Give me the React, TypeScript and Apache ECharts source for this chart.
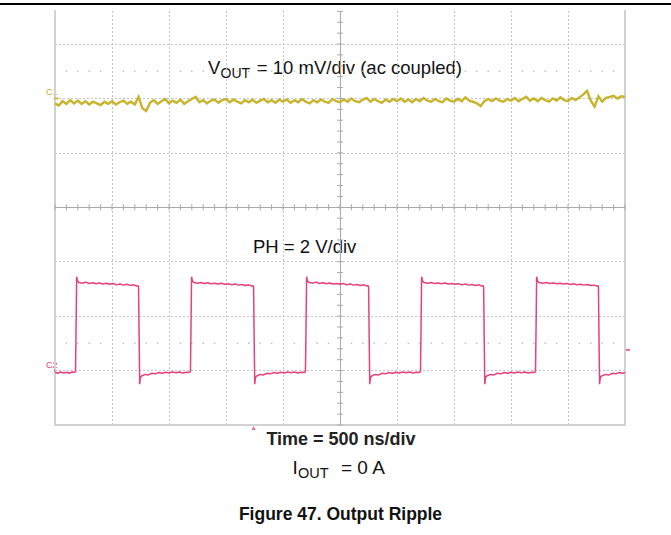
import React, { useEffect, useRef } from "react";
import * as echarts from "echarts";

// ---- scope settings ----
const timeMinNs = 0;
const timeMaxNs = 5000;
const timePerDivNs = 500;
const screenMinDiv = -4;
const screenMaxDiv = 3.607;

// ---- channel 1 : VOUT (10 mV/div, ac coupled), ground marker at +2 div ----
const voutGroundDiv = 2;
const voutMvPerDiv = 10;
const voutSampleNs = 5000 / 150;
const voutMv = [
  -0.9, -1.3, -0.5, -1.0, -0.3, -0.9, -0.4, -1.0, -0.5, -1.1,
  -0.6, -0.9, -1.2, -0.6, -1.0, -0.5, -1.1, -0.7, -0.4, -1.0,
  -0.6, -1.1, 0.3, -1.8, -2.3, -0.8, -0.3, -1.0, -0.5, -0.1,
  -0.9, -0.4, -0.8, -0.2, -1.0, -0.5, -0.1, 0.3, -0.7, -0.3,
  -0.9, -0.4, -0.2, -0.8, -0.3, -0.1, -0.7, -0.2, -0.6, -0.9,
  -0.3, -0.7, -0.2, -0.8, -0.4, -0.1, -0.7, -0.3, -0.8, -0.2,
  -0.6, -0.2, -0.8, -0.3, -0.7, -0.1, -0.6, -0.9, -0.3, -0.7,
  -0.2, -0.6, -0.8, -0.1, -0.5, -0.7, -0.2, -0.6, 0.0, -0.5,
  -0.7, -0.2, 0.1, -0.6, -0.1, -0.5, -0.8, -0.2, -0.6, -0.1,
  -0.5, 0.0, -0.6, -0.2, -0.7, -0.1, -0.5, 0.1, -0.4, -0.6,
  -0.1, -0.5, -0.7, 0.0, -0.4, -0.6, -0.1, -0.5, 0.2, -0.4,
  -0.6, -0.9, -1.4, -0.5, -0.1, -0.5, 0.0, -0.4, -0.6, -0.1,
  -0.4, 0.1, -0.5, -0.1, 0.3, -0.4, 0.0, -0.5, 0.1, -0.3,
  -0.6, 0.0, -0.4, 0.2, -0.3, -0.5, 0.1, -0.3, 0.2, 0.7,
  1.4, -0.4, -1.5, 0.4, -0.6, 0.1, 0.3, 0.5, 0.0, 0.4, 0.3,
];

// ---- channel 2 : PH (2 V/div), ground marker at -3 div ----
const phGroundDiv = -3;
const phVoltsPerDiv = 2;
const phTrace: [number, number][] = [
  [0, -0.06], [25, -0.1], [50, -0.05], [75, -0.09], [100, -0.06], [125, -0.1], [150, -0.05], [170, -0.07],
  [180, -0.03], [185, 1.6], [190, 3.45], [197, 3.3], [210, 3.24],
  [240, 3.21], [270, 3.25], [300, 3.2], [330, 3.23], [360, 3.19], [390, 3.22], [420, 3.18], [450, 3.21],
  [480, 3.17], [510, 3.2], [540, 3.15], [570, 3.18], [600, 3.14], [630, 3.17], [660, 3.13], [690, 3.15],
  [715, 3.11], [728, 3.12],
  [733, 3.08], [738, 1.2], [743, -0.5], [749, -0.25], [760, -0.2],
  [790, -0.14], [820, -0.16], [850, -0.1], [880, -0.12], [910, -0.07], [940, -0.1], [970, -0.06], [1000, -0.09],
  [1030, -0.05], [1060, -0.08], [1090, -0.05], [1120, -0.09], [1150, -0.06], [1178, -0.07],
  [1188, -0.03], [1193, 1.6], [1198, 3.45], [1205, 3.3], [1218, 3.24],
  [1250, 3.21], [1280, 3.24], [1310, 3.2], [1340, 3.23], [1370, 3.19], [1400, 3.21], [1430, 3.18], [1460, 3.21],
  [1490, 3.17], [1520, 3.19], [1550, 3.15], [1580, 3.18], [1610, 3.14], [1640, 3.16], [1670, 3.13], [1700, 3.15],
  [1725, 3.11], [1737, 3.12],
  [1742, 3.08], [1747, 1.2], [1752, -0.5], [1758, -0.25], [1769, -0.2],
  [1800, -0.14], [1830, -0.16], [1860, -0.1], [1890, -0.12], [1920, -0.07], [1950, -0.1], [1980, -0.06], [2010, -0.09],
  [2040, -0.05], [2070, -0.08], [2100, -0.05], [2130, -0.09], [2160, -0.06], [2187, -0.07],
  [2197, -0.03], [2202, 1.6], [2207, 3.45], [2214, 3.3], [2227, 3.24],
  [2260, 3.22], [2290, 3.25], [2320, 3.2], [2350, 3.23], [2380, 3.19], [2410, 3.22], [2440, 3.18], [2470, 3.2],
  [2500, 3.17], [2530, 3.2], [2560, 3.15], [2590, 3.18], [2620, 3.14], [2650, 3.16], [2680, 3.13], [2710, 3.15],
  [2734, 3.11], [2746, 3.12],
  [2751, 3.08], [2756, 1.2], [2761, -0.5], [2767, -0.25], [2778, -0.2],
  [2810, -0.14], [2840, -0.16], [2870, -0.1], [2900, -0.12], [2930, -0.07], [2960, -0.1], [2990, -0.06], [3020, -0.09],
  [3050, -0.05], [3080, -0.08], [3110, -0.05], [3140, -0.09], [3170, -0.06], [3196, -0.07],
  [3206, -0.03], [3211, 1.6], [3216, 3.45], [3223, 3.3], [3236, 3.24],
  [3270, 3.21], [3300, 3.24], [3330, 3.2], [3360, 3.22], [3390, 3.19], [3420, 3.22], [3450, 3.18], [3480, 3.2],
  [3510, 3.17], [3540, 3.19], [3570, 3.15], [3600, 3.18], [3630, 3.14], [3660, 3.16], [3690, 3.13], [3720, 3.15],
  [3743, 3.11], [3755, 3.12],
  [3760, 3.08], [3765, 1.2], [3770, -0.5], [3776, -0.25], [3787, -0.2],
  [3820, -0.14], [3850, -0.16], [3880, -0.1], [3910, -0.12], [3940, -0.07], [3970, -0.1], [4000, -0.06], [4030, -0.09],
  [4060, -0.05], [4090, -0.08], [4120, -0.05], [4150, -0.09], [4180, -0.06], [4205, -0.07],
  [4215, -0.03], [4220, 1.6], [4225, 3.45], [4232, 3.3], [4245, 3.24],
  [4280, 3.21], [4310, 3.24], [4340, 3.2], [4370, 3.22], [4400, 3.19], [4430, 3.21], [4460, 3.18], [4490, 3.2],
  [4520, 3.16], [4550, 3.19], [4580, 3.15], [4610, 3.17], [4640, 3.14], [4670, 3.16], [4700, 3.13], [4730, 3.14],
  [4752, 3.11], [4762, 3.12],
  [4767, 3.08], [4772, 1.2], [4777, -0.5], [4783, -0.25], [4794, -0.2],
  [4830, -0.14], [4860, -0.16], [4890, -0.1], [4920, -0.12], [4950, -0.07], [4980, -0.1], [5000, -0.07],
];

// ---- trigger ----
const triggerTimeNs = 1743;
const triggerLevelV = 0.76;

// ---- ground marker extents (ns, slightly left of screen) ----
const markerStartNs = -64;
const voutMarkerEndNs = 30;
const phMarkerEndNs = 0;

const FONT = "'Liberation Sans', Arial, Helvetica, sans-serif";
const YELLOW = "#c8b42c";
const PINK = "#e6417c";
const GRID = "#c4c4c4";
const AXIS = "#a9a9a9";
const BORDER = "#d2d2d2";

export default function App() {
  const ref = useRef<HTMLDivElement>(null);

  useEffect(() => {
    if (!ref.current) return;
    const chart = echarts.init(ref.current, undefined, { renderer: "svg" });

    const voutData = voutMv.map((mv, i) => [i * voutSampleNs, voutGroundDiv + mv / voutMvPerDiv]);
    const phData = phTrace.map(([t, v]) => [t, phGroundDiv + v / phVoltsPerDiv]);

    // centre-axis minor ticks (every 1/5 division)
    const ticks: number[][] = [];
    const minorNs = timePerDivNs / 5;
    for (let t = timeMinNs; t <= timeMaxNs + 0.1; t += minorNs) ticks.push([t, 0, 0]);
    for (let k = Math.ceil(screenMinDiv * 5); k <= Math.floor(screenMaxDiv * 5); k++) ticks.push([2500, k / 5, 1]);

    // dotted rows of minor graticule marks
    const dots: number[][] = [];
    for (let t = minorNs; t < timeMaxNs; t += minorNs) {
      if (Math.round(t) % timePerDivNs === 0) continue;
      dots.push([t, 2.5]);
      dots.push([t, -2.5]);
    }

    const option: any = {
      animation: false,
      backgroundColor: "#ffffff",
      grid: { left: 55, right: 46, top: 11, bottom: 110, containLabel: false },
      xAxis: {
        type: "value",
        min: timeMinNs,
        max: timeMaxNs,
        interval: timePerDivNs,
        axisLine: { show: true, onZero: false, lineStyle: { color: BORDER, width: 2 } },
        axisTick: { show: false },
        axisLabel: { show: false },
        splitLine: { show: true, lineStyle: { color: GRID, type: [2, 2], width: 1 } },
      },
      yAxis: [
        {
          type: "value",
          min: screenMinDiv,
          max: screenMaxDiv,
          interval: 1,
          position: "left",
          axisLine: { show: true, onZero: false, lineStyle: { color: BORDER, width: 2 } },
          axisTick: { show: false },
          axisLabel: { show: false },
          splitLine: { show: true, showMaxLine: false, lineStyle: { color: GRID, type: [2, 2], width: 1 } },
        },
        {
          type: "value",
          min: screenMinDiv,
          max: screenMaxDiv,
          interval: 1,
          position: "right",
          axisLine: { show: true, onZero: false, lineStyle: { color: BORDER, width: 2 } },
          axisTick: { show: false },
          axisLabel: { show: false },
          splitLine: { show: false },
        },
      ],
      series: [
        {
          type: "custom",
          silent: true,
          z: 1,
          data: ticks,
          renderItem: (_p: any, api: any) => {
            const c = api.coord([api.value(0), api.value(1)]);
            const h = 3;
            const vertical = api.value(2) === 0;
            return {
              type: "line",
              shape: vertical
                ? { x1: c[0], y1: c[1] - h, x2: c[0], y2: c[1] + h }
                : { x1: c[0] - h, y1: c[1], x2: c[0] + h, y2: c[1] },
              style: { stroke: AXIS, lineWidth: 1 },
            };
          },
          markLine: {
            silent: true,
            symbol: "none",
            label: { show: false },
            lineStyle: { color: AXIS, type: "solid", width: 1 },
            data: [{ xAxis: 2500 }, { yAxis: 0 }],
          },
        },
        {
          type: "scatter",
          silent: true,
          z: 1,
          symbol: "rect",
          symbolSize: 1.5,
          itemStyle: { color: "#b5b5b5" },
          data: dots,
        },
        {
          type: "line",
          z: 5,
          silent: true,
          symbol: "none",
          data: voutData,
          lineStyle: { color: YELLOW, width: 2.4, join: "miter" },
        },
        {
          type: "line",
          z: 5,
          silent: true,
          symbol: "none",
          clip: false,
          data: [[markerStartNs, voutGroundDiv], [voutMarkerEndNs, voutGroundDiv]],
          lineStyle: { color: YELLOW, width: 1.8 },
        },
        {
          type: "line",
          z: 6,
          silent: true,
          symbol: "none",
          data: phData,
          lineStyle: { color: PINK, width: 1.5 },
        },
        {
          type: "line",
          z: 6,
          silent: true,
          symbol: "none",
          clip: false,
          data: [[markerStartNs, phGroundDiv], [phMarkerEndNs, phGroundDiv]],
          lineStyle: { color: PINK, width: 1.6 },
        },
        {
          type: "scatter",
          silent: true,
          clip: false,
          z: 6,
          symbol: "rect",
          symbolSize: [4, 2],
          symbolOffset: [3, 0],
          itemStyle: { color: PINK },
          data: [[timeMaxNs, phGroundDiv + triggerLevelV / phVoltsPerDiv]],
        },
        {
          type: "scatter",
          silent: true,
          clip: false,
          z: 6,
          symbol: "triangle",
          symbolSize: [4, 4],
          symbolOffset: [0, 3],
          itemStyle: { color: PINK },
          data: [[triggerTimeNs, screenMinDiv]],
        },
      ],
      graphic: [
        { type: "rect", shape: { x: 0, y: 3, width: 671, height: 2 }, style: { fill: "#000" }, silent: true },
        { type: "text", x: 46, y: 92, style: { text: "C1", fill: YELLOW, font: `9px ${FONT}`, verticalAlign: "middle" } },
        { type: "text", x: 46, y: 365, style: { text: "C2", fill: PINK, font: `9px ${FONT}`, verticalAlign: "middle" } },
        { type: "text", x: 208, y: 67, style: { text: "V", fill: "#111", font: `18.5px ${FONT}`, verticalAlign: "middle" } },
        { type: "text", x: 220.5, y: 73, style: { text: "OUT", fill: "#111", font: `14px ${FONT}`, verticalAlign: "middle" } },
        { type: "text", x: 462, y: 67, style: { text: "= 10 mV/div (ac coupled)", fill: "#111", font: `18.5px ${FONT}`, align: "right", verticalAlign: "middle" } },
        { type: "text", x: 253, y: 246, style: { text: "PH = 2 V/div", fill: "#111", font: `18.5px ${FONT}`, verticalAlign: "middle" } },
        { type: "text", x: 341, y: 439, style: { text: "Time = 500 ns/div", fill: "#222", font: `bold 18px ${FONT}`, align: "center", verticalAlign: "middle" } },
        { type: "text", x: 292.5, y: 467, style: { text: "I", fill: "#111", font: `19px ${FONT}`, verticalAlign: "middle" } },
        { type: "text", x: 298, y: 473, style: { text: "OUT", fill: "#111", font: `14.5px ${FONT}`, verticalAlign: "middle" } },
        { type: "text", x: 341, y: 467, style: { text: "= 0 A", fill: "#111", font: `19px ${FONT}`, verticalAlign: "middle" } },
        { type: "text", x: 340.5, y: 514, style: { text: "Figure 47. Output Ripple", fill: "#111", font: `bold 17.5px ${FONT}`, align: "center", verticalAlign: "middle" } },
      ],
    };

    chart.setOption(option);
    return () => chart.dispose();
  }, []);

  return (
    <div
      ref={ref}
      style={{ position: "fixed", left: 0, top: 0, width: 671, height: 535, background: "#fff" }}
    />
  );
}
